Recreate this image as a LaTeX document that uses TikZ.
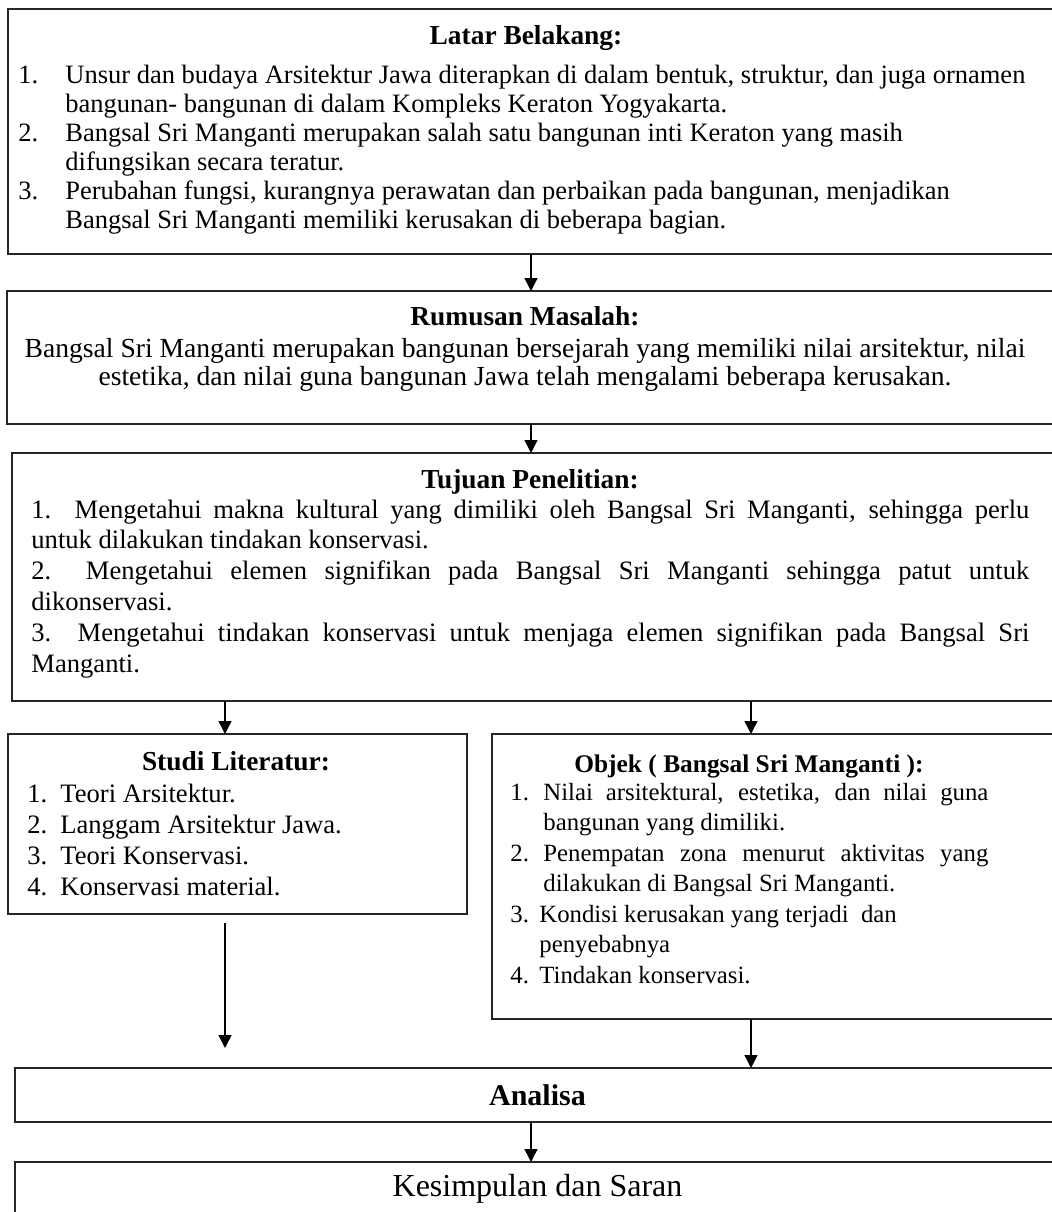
\documentclass[tikz,border=0pt]{standalone}
\usepackage{fontspec}
\setmainfont{Liberation Serif}
\usetikzlibrary{arrows.meta}

% plain interword spaces, so that [s] boxes can stretch
\newcommand\plainsp{\spaceskip=0pt\xspaceskip=0pt\relax}

\tikzset{
  box/.style={draw=black!85, line width=1pt, outer sep=0pt, inner sep=0pt,
    anchor=north west},
  ttl/.style={font=\fontsize{13.7}{14.5}\selectfont\bfseries, inner sep=0pt,
    anchor=base},
  body/.style={inner sep=0pt, anchor=base west},
  arr/.style={draw=black, line width=0.7pt,
    -{Triangle[length=6.5pt,width=6.5pt]}}
}

\begin{document}
\begin{tikzpicture}[x=0.5pt,y=-0.5pt]
  \useasboundingbox (0,0) rectangle (1052,1212);
  \clip (0,0) rectangle (1052,1212);

  % boxes
  \node[box, minimum width=526pt, minimum height=122.5pt] (latar) at (8,9) {};
  \node[box, minimum width=526.5pt, minimum height=66.5pt] (rumusan) at (7,291) {};
  \node[box, minimum width=524pt, minimum height=124pt] (tujuan) at (12,453) {};
  \node[box, minimum width=229.5pt, minimum height=90pt] (studi) at (8,734) {};
  \node[box, minimum width=284pt, minimum height=142.5pt] (objek) at (492,734) {};
  \node[box, minimum width=522.5pt, minimum height=27pt,
    font=\fontsize{15}{17}\selectfont\bfseries] (analisa) at (15,1068) {Analisa};
  \node[box, minimum width=522.5pt, minimum height=27pt,
    font=\fontsize{16}{18}\selectfont] (kesimpulan) at (15,1162) {Kesimpulan dan Saran};

  % latar belakang
  \node[ttl] (tlatar) at (526,44) {Latar Belakang:};
  \node[body, text width=520pt, font=\fontsize{13.25}{14.5}\selectfont] (blatar) at (18,83) {\plainsp
    \makebox[23.5pt][l]{1.}Unsur dan budaya Arsitektur Jawa diterapkan di dalam bentuk, struktur, dan juga ornamen\\
    \hspace*{23.5pt}bangunan- bangunan di dalam Kompleks Keraton Yogyakarta.\\
    \makebox[23.5pt][l]{2.}Bangsal Sri Manganti merupakan salah satu bangunan inti Keraton yang masih\\
    \hspace*{23.5pt}difungsikan secara teratur.\\
    \makebox[23.5pt][l]{3.}Perubahan fungsi, kurangnya perawatan dan perbaikan pada bangunan, menjadikan\\
    \hspace*{23.5pt}Bangsal Sri Manganti memiliki kerusakan di beberapa bagian.};

  % rumusan masalah
  \node[ttl] (trumusan) at (525,325) {Rumusan Masalah:};
  \node[body, anchor=base, text width=520pt,
    font=\fontsize{13.8}{14}\selectfont] (brumusan) at (525,357) {\plainsp\centering
    Bangsal Sri Manganti merupakan bangunan bersejarah yang memiliki nilai arsitektur, nilai\\
    estetika, dan nilai guna bangunan Jawa telah mengalami beberapa kerusakan.\par};

  % tujuan penelitian
  \node[ttl] (ttujuan) at (530,488) {Tujuan Penelitian:};
  \node[body, text width=499pt, font=\fontsize{13.3}{15.4}\selectfont] (btujuan) at (31,518) {\plainsp
    \makebox[499pt][s]{1.\ \ Mengetahui makna kultural yang dimiliki oleh Bangsal Sri Manganti, sehingga perlu}\\
    untuk dilakukan tindakan konservasi.\\
    \makebox[499pt][s]{2.\ \ Mengetahui elemen signifikan pada Bangsal Sri Manganti sehingga patut untuk}\\
    dikonservasi.\\
    \makebox[499pt][s]{3.\ \ Mengetahui tindakan konservasi untuk menjaga elemen signifikan pada Bangsal Sri}\\
    Manganti.};

  % studi literatur
  \node[ttl] (tstudi) at (236,770) {Studi Literatur:};
  \node[body, text width=210pt, font=\fontsize{13.3}{15.5}\selectfont] (bstudi) at (27,802) {\plainsp
    \makebox[16.5pt][l]{1.}Teori Arsitektur.\\
    \makebox[16.5pt][l]{2.}Langgam Arsitektur Jawa.\\
    \makebox[16.5pt][l]{3.}Teori Konservasi.\\
    \makebox[16.5pt][l]{4.}Konservasi material.};

  % objek
  \node[ttl, font=\fontsize{12.7}{14.5}\selectfont\bfseries] (tobjek) at (749,772) {Objek ( Bangsal Sri Manganti ):};
  \node[body, text width=239pt, font=\fontsize{12.4}{15.25}\selectfont] (bobjek) at (510,800) {\plainsp
    \makebox[16.5pt][l]{1.}\makebox[222.5pt][s]{Nilai arsitektural, estetika, dan nilai guna}\\
    \hspace*{16.5pt}bangunan yang dimiliki.\\
    \makebox[16.5pt][l]{2.}\makebox[222.5pt][s]{Penempatan zona menurut aktivitas yang}\\
    \hspace*{16.5pt}dilakukan di Bangsal Sri Manganti.\\
    \makebox[14.5pt][l]{3.}Kondisi kerusakan yang terjadi\ \ dan\\
    \hspace*{14.5pt}penyebabnya\\
    \makebox[14.5pt][l]{4.}Tindakan konservasi.};

  % arrows
  \coordinate (mid) at (531,0);
  \coordinate (lft) at (225,0);
  \coordinate (rgt) at (751,0);
  \draw[arr] (latar.south -| mid) -- (rumusan.north -| mid);
  \draw[arr] (rumusan.south -| mid) -- (tujuan.north -| mid);
  \draw[arr] (tujuan.south -| lft) -- (studi.north -| lft);
  \draw[arr] (tujuan.south -| rgt) -- (objek.north -| rgt);
  \draw[arr, shorten <=4.5pt, shorten >=10pt] (studi.south -| lft) -- (analisa.north -| lft);
  \draw[arr] (objek.south -| rgt) -- (analisa.north -| rgt);
  \draw[arr] (analisa.south -| mid) -- (kesimpulan.north -| mid);
\end{tikzpicture}
\end{document}
